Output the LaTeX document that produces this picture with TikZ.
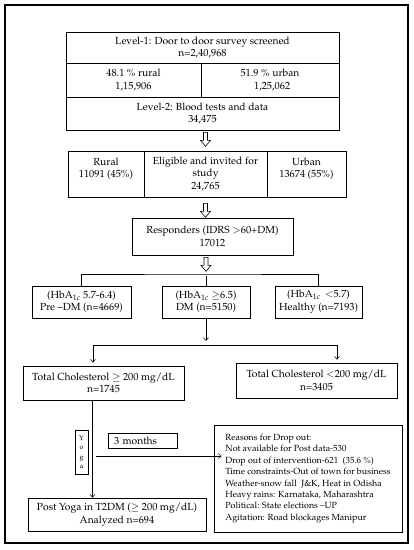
\documentclass[tikz,border=0pt]{standalone}
\usepackage[T1]{fontenc}
\usepackage{mathpazo}
\usetikzlibrary{arrows.meta}

% outlined block arrow pointing down, drawn from a start point
\newcommand{\hollowarr}[1]{\draw[line width=0.6pt, fill=white] (#1) ++(-2,0) -- ++(0,8) -- ++(-3,0) -- ++(5,6) -- ++(5,-6) -- ++(-3,0) -- ++(0,-8) -- cycle;}

\begin{document}
\begin{tikzpicture}[x=1pt,y=-1pt]
\tikzstyle{cell} = [draw, line width=0.7pt, align=center, inner sep=0pt, font=\fontsize{10.3}{12.6}\selectfont]
\tikzstyle{flowarr} = [line width=0.5pt, -{Straight Barb[length=3pt,width=5pt]}]

\useasboundingbox (0,0) rectangle (414,550);
\draw[line width=1.6pt] (5,5) rectangle (408,543);

% level 1 and 2
\node[cell, minimum width=273pt, minimum height=31pt] (lvlone) at (202.5,47.5) {Level-1: Door to door survey screened\\n=2,40,968};
\node[cell, minimum width=135pt, minimum height=34pt] (rural) at (133.5,80) {48.1 \% rural\\1,15,906};
\node[cell, minimum width=138pt, minimum height=34pt] (urban) at (270,80) {51.9 \% urban\\\ \,1,25,062};
\node[cell, minimum width=273pt, minimum height=33pt] (lvltwo) at (202.5,113.5) {Level-2: Blood tests and data\\34,475};

% eligible
\node[cell, minimum width=76pt, minimum height=46pt] (ruraltwo) at (106,174) {Rural\\11091 (45\%)\\\mbox{}};
\node[cell, minimum width=123pt, minimum height=46pt] (elig) at (205.5,174) {Eligible and invited for\\study\\24,765};
\node[cell, minimum width=79pt, minimum height=46pt] (urbantwo) at (306.5,174) {Urban\\13674 (55\%)\\\mbox{}};
\hollowarr{[yshift=-2pt]elig.north |- lvltwo.south}

\node[cell, minimum width=161pt, minimum height=37pt] (resp) at (212.5,236.5) {Responders (IDRS $>$60+DM)\\17012};
\hollowarr{[yshift=-6pt]elig.south}

% HbA1c groups
\coordinate (split) at (206,274);
\hollowarr{[yshift=-2pt]split |- resp.south}
\node[cell, minimum width=99pt, minimum height=32pt] (pre) at (81.5,302) {(HbA$_{1c}$ 5.7-6.4)\\Pre --DM (n=4669)};
\node[cell, minimum width=88pt, minimum height=32pt] (dm) at (206,302) {(HbA$_{1c}$ $\geq$6.5)\\DM (n=5150)};
\node[cell, minimum width=87pt, minimum height=32pt] (healthy) at (318.5,302) {(HbA$_{1c}$ \,$<$5.7)\\Healthy (n=7193)};
\draw[line width=0.5pt] (pre.north) |- (split) -| (healthy.north);
\draw[line width=0.5pt] (dm.north) -- ([yshift=-2pt]split);

% cholesterol
\coordinate (split2) at (206,345);
\coordinate (lefttip) at (93,345);
\coordinate (righttip) at (337,345);
\draw[flowarr] (dm.south) -- ([yshift=4pt]split2);
\draw[line width=0.5pt] (lefttip) -- (righttip);
\node[cell, minimum width=161pt, minimum height=34pt] (cholhi) at (103.5,383) {Total Cholesterol $\geq$ 200 mg/dL\\n=1745};
\node[cell, minimum width=161pt, minimum height=35pt] (chollo) at (316.5,380.5) {Total Cholesterol $<$200 mg/dL\\n=3405};
\draw[flowarr] (lefttip) -- ([yshift=3pt]lefttip |- cholhi.north);
\draw[flowarr] (righttip) -- ([yshift=3pt]righttip |- chollo.north);

% yoga and drop out
\node[cell, minimum height=33pt, minimum width=178pt] (post) at (117,514.5) {Post Yoga in T2DM ($\geq$ 200 mg/dL)\\Analyzed n=694};
\draw[flowarr] ([xshift=-11pt]cholhi.south) -- ([xshift=-11pt]cholhi.south |- post.north);
\node[cell, minimum width=13pt, minimum height=44pt, font=\fontsize{7}{9.6}\selectfont] (yoga) at (81.5,452) {Y\\o\\g\\a};
\node[cell, minimum height=15pt, text width=57pt, inner xsep=6pt, align=left] (months) at (142.5,440.5) {3 months};
\node[cell, minimum width=188pt, minimum height=107pt, align=left, font=\fontsize{8.9}{11.4}\selectfont] (reasons) at (308,478.5) {Reasons for Drop out:\\Not available for Post data-530\\Drop out of intervention-621 \ (35.6 \%)\\Time constraints-Out of town for business\\Weather-snow fall \ J\&K, Heat in Odisha\\Heavy rains: Karnataka, Maharashtra\\Political: State elections --UP\\Agitation: Road blockages Manipur};
\draw[flowarr] ([shift={(8,4)}]yoga.east) -- ([shift={(8,4)}]yoga.east -| reasons.west);

\end{tikzpicture}
\end{document}
